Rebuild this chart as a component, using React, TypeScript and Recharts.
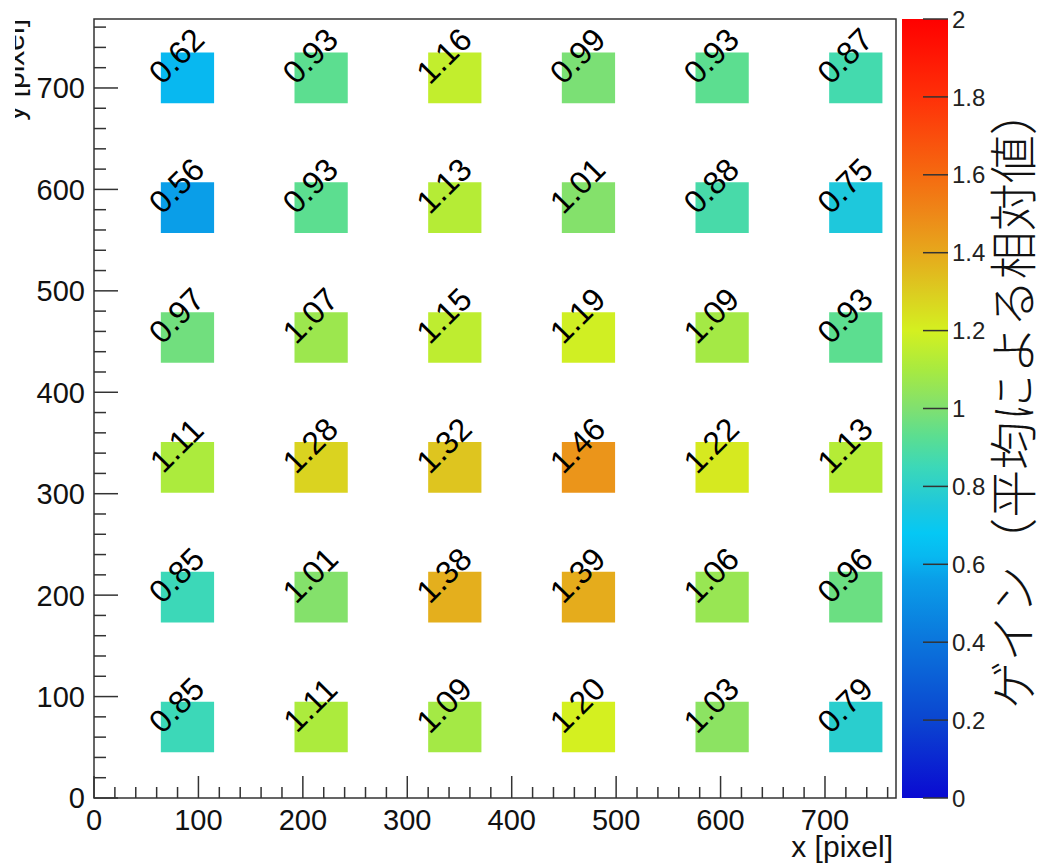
import React from 'react';
import { ScatterChart, Scatter, XAxis, YAxis, ReferenceArea, BarChart, Bar } from 'recharts';

// bin edges of the coloured cells (pixel units)
const xBinLow = [64, 192, 320, 448, 576, 704];
const xBinHigh = [115, 243, 371, 499, 627, 755];
const yBinLow = [45, 173, 301, 429, 557, 685];
const yBinHigh = [95, 223, 351, 479, 607, 735];

// relative gain, one array per row, bottom row first
const gainRow1 = [0.85, 1.11, 1.09, 1.2, 1.03, 0.79];
const gainRow2 = [0.85, 1.01, 1.38, 1.39, 1.06, 0.96];
const gainRow3 = [1.11, 1.28, 1.32, 1.46, 1.22, 1.13];
const gainRow4 = [0.97, 1.07, 1.15, 1.19, 1.09, 0.93];
const gainRow5 = [0.56, 0.93, 1.13, 1.01, 0.88, 0.75];
const gainRow6 = [0.62, 0.93, 1.16, 0.99, 0.93, 0.87];
const gainRows = [gainRow1, gainRow2, gainRow3, gainRow4, gainRow5, gainRow6];

const axisDomain = [0, 768];
const xTicks = [0, 20, 40, 60, 80, 100, 120, 140, 160, 180, 200, 220, 240, 260, 280, 300, 320, 340, 360, 380, 400, 420, 440, 460, 480, 500, 520, 540, 560, 580, 600, 620, 640, 660, 680, 700, 720, 740, 760];
const yTicks = [0, 20, 40, 60, 80, 100, 120, 140, 160, 180, 200, 220, 240, 260, 280, 300, 320, 340, 360, 380, 400, 420, 440, 460, 480, 500, 520, 540, 560, 580, 600, 620, 640, 660, 680, 700, 720, 740, 760];

const zDomain = [0, 2];
const zTicks = [0, 0.2, 0.4, 0.6, 0.8, 1, 1.2, 1.4, 1.6, 1.8, 2];

const paletteValues = [0, 0.2, 0.4, 0.56, 0.62, 0.68, 0.75, 0.85, 0.93, 1.0, 1.1, 1.2, 1.3, 1.4, 1.5, 1.6, 1.8, 2.0];
const paletteColors = ['#0a0ad2', '#0b45d0', '#0b75dc', '#0a9ee8', '#08b8f0', '#05c8f4', '#1ec8dc', '#3cd8b8', '#5cde90', '#80e070', '#a8ea40', '#d4f020', '#dccc20', '#e6a81c', '#ee8818', '#f56a10', '#ff3008', '#ff0000'];

const xTitle = 'x [pixel]';
const yTitle = 'y [pixel]';
const zTitle = 'ゲイン（平均による相対値）';

const FONT = '"Liberation Sans", Arial, Helvetica, sans-serif';
const INK = '#333';

function hexToRgb(h: string) {
  return [parseInt(h.slice(1, 3), 16), parseInt(h.slice(3, 5), 16), parseInt(h.slice(5, 7), 16)];
}
function colorFor(v: number) {
  if (v <= paletteValues[0]) return paletteColors[0];
  for (let i = 1; i < paletteValues.length; i++) {
    if (v <= paletteValues[i]) {
      const t = (v - paletteValues[i - 1]) / (paletteValues[i] - paletteValues[i - 1]);
      const a = hexToRgb(paletteColors[i - 1]);
      const b = hexToRgb(paletteColors[i]);
      const c = a.map((av, k) => Math.round(av + (b[k] - av) * t));
      return `rgb(${c[0]},${c[1]},${c[2]})`;
    }
  }
  return paletteColors[paletteColors.length - 1];
}

type Cell = { x: number; y: number; x1: number; x2: number; y1: number; y2: number; v: number };
const cells: Cell[] = [];
gainRows.forEach((row, j) => {
  row.forEach((v, i) => {
    cells.push({
      x1: xBinLow[i], x2: xBinHigh[i], y1: yBinLow[j], y2: yBinHigh[j],
      x: (xBinLow[i] + xBinHigh[i]) / 2, y: (yBinLow[j] + yBinHigh[j]) / 2, v,
    });
  });
});

const XTick = (props: any) => {
  const { x, y, payload } = props;
  const v = payload.value;
  const major = v % 100 === 0;
  return (
    <g>
      <line x1={x} x2={x} y1={y} y2={y - (major ? 22 : 11)} stroke={INK} strokeWidth={1.5} />
      {major && (
        <text x={x} y={y + 32} textAnchor="middle" fontSize={29} fontFamily={FONT} fill="#111">{v}</text>
      )}
    </g>
  );
};

const YTick = (props: any) => {
  const { x, y, payload } = props;
  const v = payload.value;
  const major = v % 100 === 0;
  return (
    <g>
      <line x1={x} x2={x + (major ? 24 : 12)} y1={y} y2={y} stroke={INK} strokeWidth={1.5} />
      {major && (
        <text x={x - 9} y={y} dy="0.36em" textAnchor="end" fontSize={29} fontFamily={FONT} fill="#111">{v}</text>
      )}
    </g>
  );
};

const ZTick = (props: any) => {
  const { x, y, payload } = props;
  const v = payload.value;
  return (
    <g>
      <line x1={x - 25} x2={x} y1={y} y2={y} stroke={INK} strokeWidth={1.5} />
      <text x={x + 4} y={y} dy="0.36em" textAnchor="start" fontSize={24} fontFamily={FONT} fill="#222">{String(Math.round(v * 10) / 10)}</text>
    </g>
  );
};

const CellText = (props: any) => {
  const { cx, cy, payload } = props;
  if (cx == null || cy == null) return <g />;
  return (
    <g transform={`translate(${cx - 11},${cy - 22}) rotate(-45)`}>
      <text x={0} y={0} dy="0.35em" textAnchor="middle" fontSize={32} fontFamily={FONT} fill="#000">
        {payload.v.toFixed(2)}
      </text>
    </g>
  );
};

const colorbarData = [{ name: 'z', v: zDomain[1] }];

export default function App() {
  return (
    <div style={{ position: 'absolute', left: 0, top: 0, width: 1041, height: 868, background: '#fff' }}>
      <div style={{ position: 'absolute', left: 0, top: 0 }}>
        <ScatterChart width={1041} height={868} margin={{ top: 19, right: 145, bottom: 0, left: 0 }}>
          <defs>
            <clipPath id="ytitleClip">
              <rect x={15} y={0} width={200} height={868} />
            </clipPath>
          </defs>
          <XAxis
            type="number"
            dataKey="x"
            domain={axisDomain}
            ticks={xTicks}
            interval={0}
            height={70}
            tickSize={0}
            tickMargin={0}
            axisLine={false}
            tickLine={false}
            tick={<XTick />}
            allowDataOverflow
          />
          <YAxis
            type="number"
            dataKey="y"
            domain={axisDomain}
            ticks={yTicks}
            interval={0}
            width={94}
            tickSize={0}
            tickMargin={0}
            axisLine={false}
            tickLine={false}
            tick={<YTick />}
            allowDataOverflow
          />
          {cells.map((c, k) => (
            <ReferenceArea
              key={k}
              x1={c.x1}
              x2={c.x2}
              y1={c.y1}
              y2={c.y2}
              fill={colorFor(c.v)}
              fillOpacity={1}
              stroke="none"
            />
          ))}
          <ReferenceArea x1={axisDomain[0]} x2={axisDomain[1]} y1={axisDomain[0]} y2={axisDomain[1]} fill="none" fillOpacity={0} stroke={INK} strokeWidth={1.5} />
          <Scatter data={cells} isAnimationActive={false} shape={<CellText />} />
          <text x={893} y={857} textAnchor="end" fontSize={30} fontFamily={FONT} fill="#111">{xTitle}</text>
          <g clipPath="url(#ytitleClip)">
            <text transform="translate(24,19) rotate(-90)" textAnchor="end" fontSize={30} fontFamily={FONT} fill="#111">{yTitle}</text>
          </g>
        </ScatterChart>
      </div>
      <div style={{ position: 'absolute', left: 896, top: 0 }}>
        <BarChart width={145} height={868} data={colorbarData} margin={{ top: 19, right: 0, bottom: 70, left: 6 }} barCategoryGap={0}>
          <defs>
            <linearGradient id="cbGrad" x1="0" y1="1" x2="0" y2="0">
              {paletteValues.map((pv, k) => (
                <stop key={k} offset={(pv - zDomain[0]) / (zDomain[1] - zDomain[0])} stopColor={paletteColors[k]} />
              ))}
            </linearGradient>
          </defs>
          <XAxis dataKey="name" type="category" hide />
          <YAxis
            orientation="right"
            type="number"
            domain={zDomain}
            ticks={zTicks}
            interval={0}
            width={93}
            tickSize={0}
            tickMargin={0}
            axisLine={false}
            tickLine={false}
            tick={<ZTick />}
          />
          <Bar dataKey="v" fill="url(#cbGrad)" isAnimationActive={false} />
          <text transform="translate(118,398) rotate(-90)" textAnchor="middle" dy="0.35em" fontSize={48} fontWeight={300} fontFamily='"Noto Sans CJK JP", sans-serif' fill="#111">{zTitle}</text>
        </BarChart>
      </div>
    </div>
  );
}
